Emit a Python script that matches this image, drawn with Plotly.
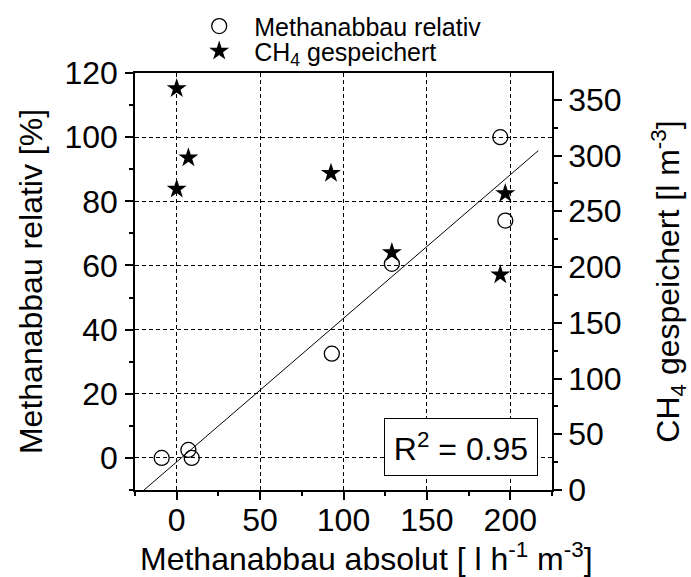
import plotly.graph_objects as go

# ---- data ----
rel_x = [-9, 7, 9, 93, 129, 194, 197]          # Methanabbau absolut
rel_y = [0, 2.5, 0, 32.5, 60.5, 100, 74]      # Methanabbau relativ [%]

ch4_x = [0, 7, 0, 92.5, 129, 197, 194]        # Methanabbau absolut
ch4_y = [360, 298, 270, 284, 213, 266, 193]   # CH4 gespeichert [l m-3]

fit_x = [-19.6, 216.8]                        # regression line ends
fit_y = [-10, 95.8]

r2_text = "R<sup>2</sup> = 0.95"
x_title = "Methanabbau absolut [ l h<sup>-1</sup> m<sup>-3</sup>]"

x_ticks = [0, 50, 100, 150, 200]
y_ticks = [0, 20, 40, 60, 80, 100, 120]
y2_ticks = [0, 50, 100, 150, 200, 250, 300, 350]

FONT = "Liberation Sans, Arial, sans-serif"

fig = go.Figure()

fig.add_trace(go.Scatter(
    x=rel_x, y=rel_y, mode="markers", name="Methanabbau relativ",
    marker=dict(symbol="circle-open", size=15, color="black", line=dict(width=1.3, color="black")),
    legend="legend",
))
fig.add_trace(go.Scatter(
    x=fit_x, y=fit_y, mode="lines", showlegend=False,
    line=dict(color="black", width=1),
))
fig.add_trace(go.Scatter(
    x=ch4_x, y=ch4_y, mode="markers", name="CH<sub>4</sub> gespeichert",
    marker=dict(symbol="star", size=15, color="black"),
    yaxis="y2", legend="legend2",
))

axis_common = dict(
    showline=True, linecolor="black", linewidth=1.5,
    ticks="outside", ticklen=8, tickwidth=1.5, tickcolor="black",
    tickfont=dict(size=32, color="black", family=FONT),
    zeroline=False, automargin=False,
)

fig.update_layout(
    width=691, height=577,
    margin=dict(l=135, r=139, t=73, b=87, autoexpand=False),
    paper_bgcolor="white", plot_bgcolor="white",
    font=dict(family=FONT, color="black"),
    xaxis=dict(
        range=[-25, 225], tickvals=x_ticks, mirror=True,
        showgrid=True, gridcolor="black", gridwidth=1, griddash="4px,3px",
        minor=dict(dtick=25, tick0=0, ticks="outside", ticklen=4, tickwidth=1.5, tickcolor="black", showgrid=False),
        ticklabelstandoff=-7,
        **axis_common,
    ),
    yaxis=dict(
        range=[-10, 120], tickvals=y_ticks,
        showgrid=True, gridcolor="black", gridwidth=1, griddash="4px,3px",
        minor=dict(dtick=10, tick0=0, ticks="outside", ticklen=4, tickwidth=1.5, tickcolor="black", showgrid=False),
        ticklabelstandoff=1,
        title=dict(text="Methanabbau relativ [%]",
                   font=dict(size=32, color="black", family=FONT), standoff=12),
        **axis_common,
    ),
    yaxis2=dict(
        range=[0, 374], tickvals=y2_ticks, overlaying="y", side="right",
        showgrid=False,
        minor=dict(dtick=25, tick0=0, ticks="outside", ticklen=4, tickwidth=1.5, tickcolor="black", showgrid=False),
        title=dict(text="CH<sub>4</sub> gespeichert [l m<sup>-3</sup>]",
                   font=dict(size=32, color="black", family=FONT), standoff=38),
        **axis_common,
    ),
    legend=dict(
        x=0.118, y=1.112, xanchor="left", yanchor="middle",
        bgcolor="rgba(0,0,0,0)", borderwidth=0, itemwidth=60,
        font=dict(size=25, color="black", family=FONT),
    ),
    legend2=dict(
        x=0.118, y=1.052, xanchor="left", yanchor="middle",
        bgcolor="rgba(0,0,0,0)", borderwidth=0, itemwidth=60,
        font=dict(size=25, color="black", family=FONT),
    ),
    annotations=[
        dict(
            x=170.6, y=3.5, xref="x", yref="y", text=r2_text, showarrow=False,
            font=dict(size=32, color="black", family=FONT),
            bgcolor="white", bordercolor="black", borderwidth=1, borderpad=0,
            width=152, height=56, xanchor="center", yanchor="middle",
        ),
        dict(
            x=0.555, y=-0.16, xref="paper", yref="paper", text=x_title, showarrow=False,
            font=dict(size=32, color="black", family=FONT),
            xanchor="center", yanchor="middle",
        ),
    ],
)

fig.write_html("out.html", config={"displayModeBar": False},
               post_script="document.body.style.margin='0';")
